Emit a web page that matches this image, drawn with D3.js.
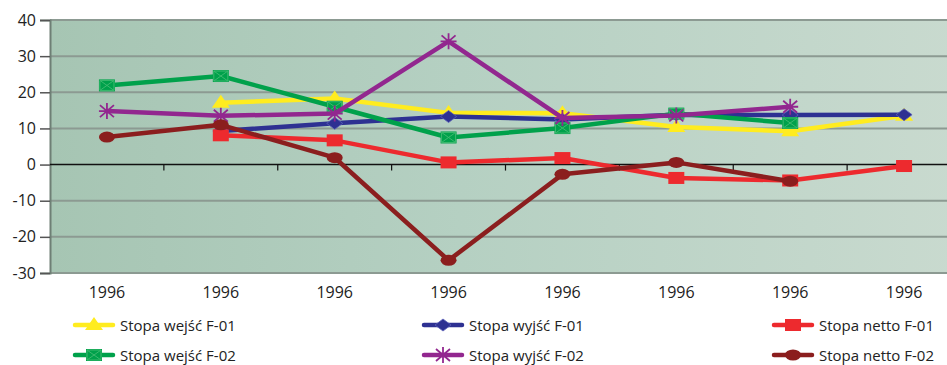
<!DOCTYPE html>
<html>
<head>
<meta charset="utf-8">
<script src="https://cdn.jsdelivr.net/npm/d3@7"></script>
<style>
  html, body { margin: 0; padding: 0; background: #fff; }
  svg { display: block; font-family: "Open Sans", "Noto Sans", sans-serif; }
</style>
</head>
<body>
<svg id="chart" width="947" height="365"></svg>
<script>
// Category labels along the x axis
const categories = ["1996", "1996", "1996", "1996", "1996", "1996", "1996", "1996"];

// Series values (null = no value for that category)
const wejscF01 = [null, 17.1, 18.3, 14.3, 14.2, 10.4, 9.2, 13.5];
const wyjscF01 = [null, 9.3, 11.4, 13.3, 12.5, 13.8, 13.7, 13.8];
const nettoF01 = [null, 8.1, 6.7, 0.6, 1.8, -3.7, -4.4, -0.4];
const wejscF02 = [21.9, 24.5, 16.0, 7.5, 10.1, 14.1, 11.5, null];
const wyjscF02 = [14.8, 13.5, 14.1, 34.1, 12.9, 13.6, 16.0, null];
const nettoF02 = [7.6, 11.0, 1.9, -26.5, -2.7, 0.6, -4.6, null];

const seriesNames = ["Stopa wejść F-01", "Stopa wyjść F-01", "Stopa netto F-01",
                     "Stopa wejść F-02", "Stopa wyjść F-02", "Stopa netto F-02"];
const yTicks = [-30, -20, -10, 0, 10, 20, 30, 40];

const series = [
  { name: seriesNames[0], values: wejscF01, color: "#ffec1f", marker: "triangle" },
  { name: seriesNames[1], values: wyjscF01, color: "#2e3192", marker: "diamond" },
  { name: seriesNames[2], values: nettoF01, color: "#ed2a2e", marker: "square" },
  { name: seriesNames[3], values: wejscF02, color: "#00a14b", marker: "xsquare" },
  { name: seriesNames[4], values: wyjscF02, color: "#92278f", marker: "star" },
  { name: seriesNames[5], values: nettoF02, color: "#8b1e1e", marker: "ellipse" }
];

const svg = d3.select("#chart");
const plot = { left: 50, top: 20, right: 961, bottom: 273 };

const x = d3.scaleBand().domain(d3.range(categories.length))
  .range([plot.left, plot.right]).paddingInner(0).paddingOuter(0);
const y = d3.scaleLinear().domain([-30, 40]).range([plot.bottom, plot.top]);
const cx = i => x(i) + x.bandwidth() / 2;

// Background gradient of the plot area
const defs = svg.append("defs");
const grad = defs.append("linearGradient").attr("id", "bg").attr("x1", 0).attr("x2", 1).attr("y1", 0).attr("y2", 0);
grad.append("stop").attr("offset", "0%").attr("stop-color", "#a6c5b3");
grad.append("stop").attr("offset", "45%").attr("stop-color", "#b5d0c2");
grad.append("stop").attr("offset", "100%").attr("stop-color", "#c9dacf");

svg.append("rect")
  .attr("x", plot.left).attr("y", plot.top)
  .attr("width", plot.right - plot.left).attr("height", plot.bottom - plot.top)
  .attr("fill", "url(#bg)");

// Horizontal gridlines
svg.append("g").selectAll("line")
  .data(yTicks.filter(t => t !== 0))
  .join("line")
  .attr("x1", plot.left).attr("x2", plot.right)
  .attr("y1", d => y(d)).attr("y2", d => y(d))
  .attr("stroke", "#8c9a92").attr("stroke-width", 2);

// Y axis (plain hyphen for negative labels)
const yAxis = svg.append("g")
  .attr("transform", `translate(${plot.left},0)`)
  .call(d3.axisLeft(y).tickValues(yTicks).tickFormat(d => String(d)).tickSize(10).tickPadding(4));
yAxis.select(".domain").attr("stroke", "#6e7f75").attr("stroke-width", 2);
yAxis.selectAll(".tick line").attr("stroke", "#555").attr("stroke-width", 1.5);
yAxis.selectAll(".tick text").attr("font-size", 16).attr("fill", "#222")
  .attr("font-family", "'Open Sans', sans-serif");

// Zero line with category tick marks
const zero = svg.append("g").attr("transform", `translate(0,${y(0)})`);
zero.append("line").attr("x1", plot.left).attr("x2", plot.right)
  .attr("stroke", "#111").attr("stroke-width", 1.5);
zero.selectAll(".cat-tick")
  .data(d3.range(1, categories.length))
  .join("line")
  .attr("class", "cat-tick")
  .attr("x1", d => x(d)).attr("x2", d => x(d))
  .attr("y1", 0).attr("y2", 6)
  .attr("stroke", "#111").attr("stroke-width", 1.2);

// Category labels
svg.append("g").selectAll("text")
  .data(categories)
  .join("text")
  .attr("x", (d, i) => cx(i)).attr("y", 298)
  .attr("text-anchor", "middle")
  .attr("font-size", 16).attr("fill", "#222")
  .text(d => d);

// Marker drawing
function drawMarker(g, type, color) {
  switch (type) {
    case "triangle":
      g.append("path").attr("d", "M0,-8 L9,5 L-9,5 Z").attr("fill", color);
      break;
    case "diamond":
      g.append("path").attr("d", "M0,-6 L8,0 L0,6 L-8,0 Z").attr("fill", color)
        .attr("stroke", "#5b5fb8").attr("stroke-width", 0.8);
      break;
    case "square":
      g.append("rect").attr("x", -8).attr("y", -6).attr("width", 16).attr("height", 12)
        .attr("fill", color);
      break;
    case "xsquare":
      g.append("rect").attr("x", -8).attr("y", -6).attr("width", 16).attr("height", 12)
        .attr("fill", color);
      g.append("path").attr("d", "M-7,-5 L7,5 M-7,5 L7,-5 M-7,-5 L7,-5 L7,5 L-7,5 Z")
        .attr("stroke", "#3cb96e").attr("stroke-width", 1).attr("fill", "none");
      break;
    case "star":
      g.append("path").attr("d", "M-7,-6 L7,6 M-7,6 L7,-6 M0,-8 L0,8 M-8,0 L8,0")
        .attr("stroke", color).attr("stroke-width", 1.8).attr("fill", "none");
      break;
    case "ellipse":
      g.append("ellipse").attr("rx", 8).attr("ry", 5.5).attr("fill", color);
      break;
  }
}

// Series lines and markers
const line = d3.line()
  .defined(d => d.v !== null)
  .x(d => cx(d.i))
  .y(d => y(d.v));

const clip = defs.append("clipPath").attr("id", "plotclip");
clip.append("rect").attr("x", plot.left).attr("y", 0).attr("width", 947 - plot.left).attr("height", 365);

const seriesG = svg.append("g").attr("clip-path", "url(#plotclip)");
series.forEach(s => {
  const pts = s.values.map((v, i) => ({ v, i }));
  seriesG.append("path")
    .datum(pts)
    .attr("d", line)
    .attr("fill", "none")
    .attr("stroke", s.color)
    .attr("stroke-width", 4.5)
    .attr("stroke-linejoin", "round");
  pts.filter(p => p.v !== null).forEach(p => {
    const g = seriesG.append("g").attr("transform", `translate(${cx(p.i)},${y(p.v)})`);
    drawMarker(g, s.marker, s.color);
  });
});

// Legend
const legendPos = [
  { x: 75, y: 325 }, { x: 424, y: 325 }, { x: 774, y: 325 },
  { x: 75, y: 355 }, { x: 424, y: 355 }, { x: 774, y: 355 }
];
series.forEach((s, k) => {
  const p = legendPos[k];
  const g = svg.append("g").attr("transform", `translate(${p.x},${p.y})`);
  g.append("line").attr("x1", 0).attr("x2", 38).attr("y1", 0).attr("y2", 0)
    .attr("stroke", s.color).attr("stroke-width", 4.5).attr("stroke-linecap", "round");
  const m = g.append("g").attr("transform", "translate(19,0)");
  drawMarker(m, s.marker, s.color);
  g.append("text").attr("x", 45).attr("y", 5.5)
    .attr("font-size", 15).attr("fill", "#222")
    .text(s.name);
});
</script>
</body>
</html>
